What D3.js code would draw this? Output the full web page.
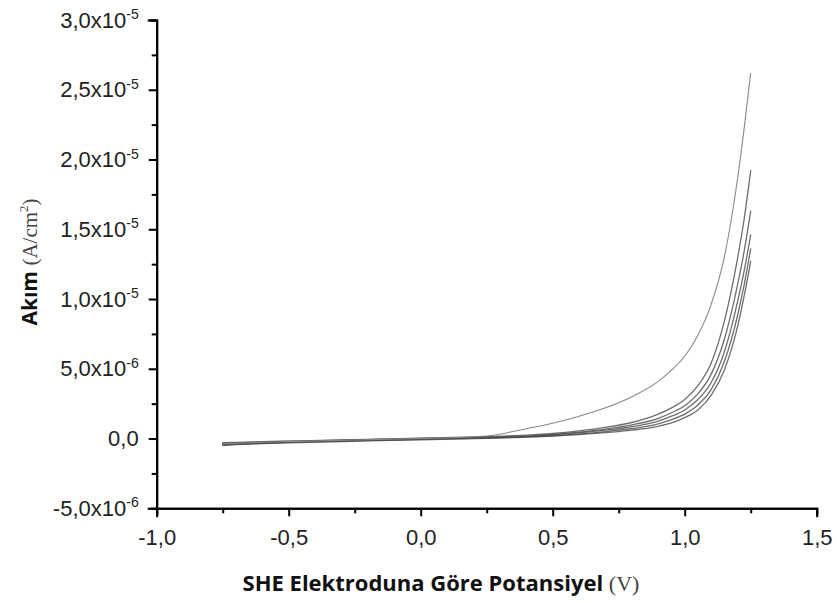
<!DOCTYPE html>
<html>
<head>
<meta charset="utf-8">
<script src="https://cdn.jsdelivr.net/npm/d3@7"></script>
<style>
  body { margin: 0; background: #fff; }
  svg { display: block; }
</style>
</head>
<body>
<div id="chart"></div>
<script>
// potential grid (V vs SHE) shared by every sweep
var potential = [-0.75, -0.7, -0.6, -0.5, -0.25, 0, 0.25, 0.4, 0.5, 0.6, 0.7, 0.8, 0.9, 0.95, 1.0, 1.05, 1.1, 1.15, 1.2, 1.225, 1.25];

// current density in units of 1e-6 A/cm2, one array per cycle
var cycle1 = [-0.38, -0.33, -0.27, -0.22, -0.10, 0.00, 0.18, 0.70, 1.10, 1.6, 2.2, 3.0, 4.1, 4.9, 5.9, 7.4, 9.6, 13.0, 18.6, 22.2, 26.2];
var cycle2 = [-0.30, -0.27, -0.22, -0.18, -0.08, 0.03, 0.14, 0.24, 0.36, 0.55, 0.8, 1.15, 1.75, 2.2, 2.8, 3.8, 5.4, 8.4, 12.9, 15.7, 19.2];
var cycle3 = [-0.45, -0.40, -0.34, -0.28, -0.16, -0.06, 0.04, 0.14, 0.28, 0.46, 0.68, 0.98, 1.45, 1.85, 2.35, 3.2, 4.6, 7.1, 11.0, 13.4, 16.3];
var cycle4 = [-0.35, -0.31, -0.25, -0.20, -0.09, 0.01, 0.10, 0.18, 0.26, 0.40, 0.6, 0.85, 1.25, 1.6, 2.05, 2.8, 4.0, 6.2, 9.8, 12.0, 14.6];
var cycle5 = [-0.50, -0.44, -0.37, -0.31, -0.19, -0.09, 0.02, 0.10, 0.20, 0.33, 0.5, 0.72, 1.05, 1.35, 1.75, 2.4, 3.5, 5.5, 8.8, 11.0, 13.6];
var cycle6 = [-0.42, -0.38, -0.31, -0.26, -0.14, -0.04, 0.06, 0.12, 0.18, 0.28, 0.42, 0.6, 0.88, 1.12, 1.5, 2.05, 3.1, 4.9, 8.0, 10.2, 12.7];

// tick labels
var xTicks = [-1.0, -0.5, 0.0, 0.5, 1.0, 1.5];
var xTickLabels = ["-1,0", "-0,5", "0,0", "0,5", "1,0", "1,5"];
var yTicks = [-5, 0, 5, 10, 15, 20, 25, 30];
var yTickBase = ["-5,0x10", "0,0", "5,0x10", "1,0x10", "1,5x10", "2,0x10", "2,5x10", "3,0x10"];
var yTickExp = ["-6", "", "-6", "-5", "-5", "-5", "-5", "-5"];

var svgWidth = 837;
var svgHeight = 603;

var svg = d3.select("#chart")
  .append("svg")
  .attr("width", svgWidth)
  .attr("height", svgHeight);

var xScale = d3.scaleLinear().domain([-1, 1.5]).range([156.7, 816.7]);
var yScale = d3.scaleLinear().domain([-5, 30]).range([508.3, 20]);

// curves
var cycles = [cycle2, cycle3, cycle4, cycle5, cycle6];
var line = d3.line()
  .x(function(d) { return xScale(d[0]); })
  .y(function(d) { return yScale(d[1]); })
  .curve(d3.curveMonotoneX);

svg.selectAll(".cycle")
  .data(cycles)
  .enter()
  .append("path")
  .attr("class", "cycle")
  .attr("d", function(c) { return line(d3.zip(potential, c)); })
  .attr("fill", "none")
  .attr("stroke", "#4a4a4a")
  .attr("stroke-opacity", 0.8)
  .attr("stroke-width", 1.3)
  .attr("stroke-linecap", "round");

svg.append("path")
  .datum(d3.zip(potential, cycle1))
  .attr("d", line)
  .attr("fill", "none")
  .attr("stroke", "#888")
  .attr("stroke-width", 1.1);

// axes
var tickFont = "'Liberation Sans', Arial, sans-serif";

var bottomAxis = d3.axisBottom(xScale)
  .tickValues(xTicks)
  .tickSize(8)
  .tickPadding(13)
  .tickFormat(function(d, i) { return xTickLabels[i]; });

var bottomMinor = d3.axisBottom(xScale)
  .tickValues([-0.75, -0.25, 0.25, 0.75, 1.25])
  .tickSize(5)
  .tickFormat("");

var leftAxis = d3.axisLeft(yScale)
  .tickValues(yTicks)
  .tickSize(8)
  .tickPadding(10)
  .tickFormat(function(d, i) { return yTickBase[i]; });

var leftMinor = d3.axisLeft(yScale)
  .tickValues([-2.5, 2.5, 7.5, 12.5, 17.5, 22.5, 27.5])
  .tickSize(5)
  .tickFormat("");

var gx = svg.append("g")
  .attr("transform", "translate(0," + yScale(-5) + ")")
  .call(bottomAxis);
svg.append("g")
  .attr("transform", "translate(0," + yScale(-5) + ")")
  .call(bottomMinor);

var gy = svg.append("g")
  .attr("transform", "translate(" + xScale(-1) + ",0)")
  .call(leftAxis);
svg.append("g")
  .attr("transform", "translate(" + xScale(-1) + ",0)")
  .call(leftMinor);

svg.selectAll(".domain, .tick line")
  .attr("stroke", "#000")
  .attr("stroke-width", 2);
svg.selectAll(".domain").attr("stroke-linecap", "square");

gx.selectAll("text")
  .attr("font-family", tickFont)
  .attr("font-size", 22)
  .attr("fill", "#222");

gy.selectAll("text")
  .attr("font-family", tickFont)
  .attr("font-size", 22)
  .attr("fill", "#222")
  .each(function(d, i) {
    if (yTickExp[i]) {
      d3.select(this).append("tspan")
        .attr("dy", "-0.6em")
        .attr("font-size", 14)
        .text(yTickExp[i]);
    }
  });

// axis labels
var xLabel = svg.append("text")
  .attr("x", 441)
  .attr("y", 591)
  .attr("text-anchor", "middle")
  .attr("fill", "#111");
xLabel.append("tspan")
  .attr("font-family", "'Open Sans', sans-serif")
  .attr("font-weight", "bold")
  .attr("font-size", 22)
  .text("SHE Elektroduna Göre Potansiyel ");
xLabel.append("tspan")
  .attr("font-family", "'Liberation Serif', serif")
  .attr("font-size", 22)
  .attr("fill", "#444")
  .text("(V)");

var yLabel = svg.append("text")
  .attr("transform", "translate(37,262) rotate(-90)")
  .attr("text-anchor", "middle")
  .attr("fill", "#111");
yLabel.append("tspan")
  .attr("font-family", "'Open Sans', sans-serif")
  .attr("font-weight", "bold")
  .attr("font-size", 21)
  .text("Akım ");
yLabel.append("tspan")
  .attr("font-family", "'Liberation Serif', serif")
  .attr("font-size", 21)
  .attr("fill", "#444")
  .text("(A/cm");
yLabel.append("tspan")
  .attr("font-family", "'Liberation Serif', serif")
  .attr("font-size", 13)
  .attr("fill", "#444")
  .attr("dy", "-0.7em")
  .text("2");
yLabel.append("tspan")
  .attr("font-family", "'Liberation Serif', serif")
  .attr("font-size", 21)
  .attr("fill", "#444")
  .attr("dy", "0.45em")
  .text(")");
</script>
</body>
</html>
